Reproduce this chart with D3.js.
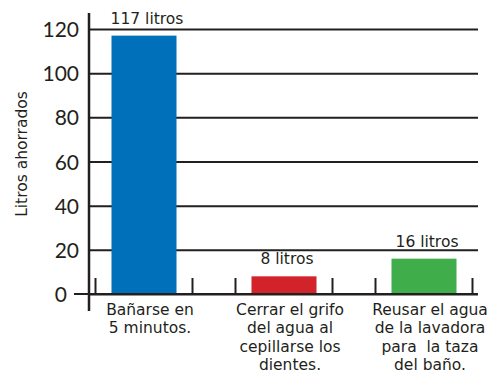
<!DOCTYPE html>
<html>
<head>
<meta charset="utf-8">
<script src="https://cdn.jsdelivr.net/npm/d3@7"></script>
<style>
  html, body { margin: 0; padding: 0; background: #fff; }
  svg { display: block; }
</style>
</head>
<body>
<svg id="chart" width="502" height="374"></svg>
<script>
// Water saved per action (litres)
const categories = ["bano", "grifo", "lavadora"];
const categoryLabels = [
  ["Bañarse en", "5 minutos."],
  ["Cerrar el grifo", "del agua al", "cepillarse los", "dientes."],
  ["Reusar el agua", "de la lavadora", "para  la taza", "del baño."]
];
const values = [117, 8, 16];
const valueLabels = ["117 litros", "8 litros", "16 litros"];
const barColors = ["#0070ba", "#d2232a", "#3fad49"];
const yTicks = [0, 20, 40, 60, 80, 100, 120];
const yTitle = "Litros ahorrados";

const ink = "#231f20";
const svg = d3.select("#chart");

const axisX = 89, gridRight = 478;
const y = d3.scaleLinear().domain([0, 120]).range([294, 29]);
const x = d3.scaleBand().domain(categories).range([74, 494]);
const barW = 65, tickHalf = 48.5;

// horizontal grid lines with value labels
const yAxis = d3.axisLeft(y)
  .tickValues(yTicks)
  .tickSize(-(gridRight - axisX))
  .tickPadding(10)
  .tickFormat(d3.format("d"));

const gAxis = svg.append("g")
  .attr("transform", `translate(${axisX},0)`)
  .call(yAxis);
gAxis.select(".domain").remove();
gAxis.selectAll(".tick line")
  .attr("stroke", ink)
  .attr("stroke-width", 2);
gAxis.selectAll(".tick text")
  .attr("fill", ink)
  .attr("font-family", "Lato, sans-serif")
  .attr("font-size", 21)
  .attr("x", d => d === 0 ? -22 : -10)
  .attr("dy", "0.36em");

// baseline extends a little left of the axis
svg.append("line")
  .attr("x1", 74).attr("x2", gridRight)
  .attr("y1", y(0)).attr("y2", y(0))
  .attr("stroke", ink).attr("stroke-width", 2);

// vertical axis
svg.append("line")
  .attr("x1", axisX).attr("x2", axisX)
  .attr("y1", 13).attr("y2", 311)
  .attr("stroke", ink).attr("stroke-width", 2.5);

const centers = categories.map(c => x(c) + x.bandwidth() / 2);

// short marks either side of each category on the baseline
const marks = [];
centers.forEach(cx => { marks.push(cx - tickHalf, cx + tickHalf); });
svg.append("g").selectAll("line")
  .data(marks)
  .join("line")
  .attr("x1", d => d).attr("x2", d => d)
  .attr("y1", y(0) - 16).attr("y2", y(0))
  .attr("stroke", ink).attr("stroke-width", 2);

// bars
svg.append("g").selectAll("rect")
  .data(values)
  .join("rect")
  .attr("x", (d, i) => centers[i] - barW / 2)
  .attr("width", barW)
  .attr("y", d => y(d))
  .attr("height", d => y(0) - y(d) - 1)
  .attr("fill", (d, i) => barColors[i]);

// value labels above bars
svg.append("g").selectAll("text")
  .data(values)
  .join("text")
  .attr("x", (d, i) => centers[i] + 3)
  .attr("y", d => y(d) - 12)
  .attr("text-anchor", "middle")
  .attr("fill", ink)
  .attr("font-family", "DejaVu Sans, sans-serif")
  .attr("font-size", 15.5)
  .text((d, i) => valueLabels[i]);

// category labels under the baseline
const gCat = svg.append("g");
categoryLabels.forEach((lines, i) => {
  const t = gCat.append("text")
    .attr("text-anchor", "middle")
    .attr("fill", ink)
    .attr("font-family", "DejaVu Sans, sans-serif")
    .attr("font-size", 15.5);
  lines.forEach((ln, j) => {
    t.append("tspan")
      .attr("x", centers[i] + 6)
      .attr("y", 315 + j * 18.3)
      .attr("xml:space", "preserve")
      .text(ln);
  });
});

// y-axis title
svg.append("text")
  .attr("transform", `translate(27,154) rotate(-90)`)
  .attr("text-anchor", "middle")
  .attr("fill", ink)
  .attr("font-family", "DejaVu Sans, sans-serif")
  .attr("font-size", 15.5)
  .text(yTitle);
</script>
</body>
</html>
